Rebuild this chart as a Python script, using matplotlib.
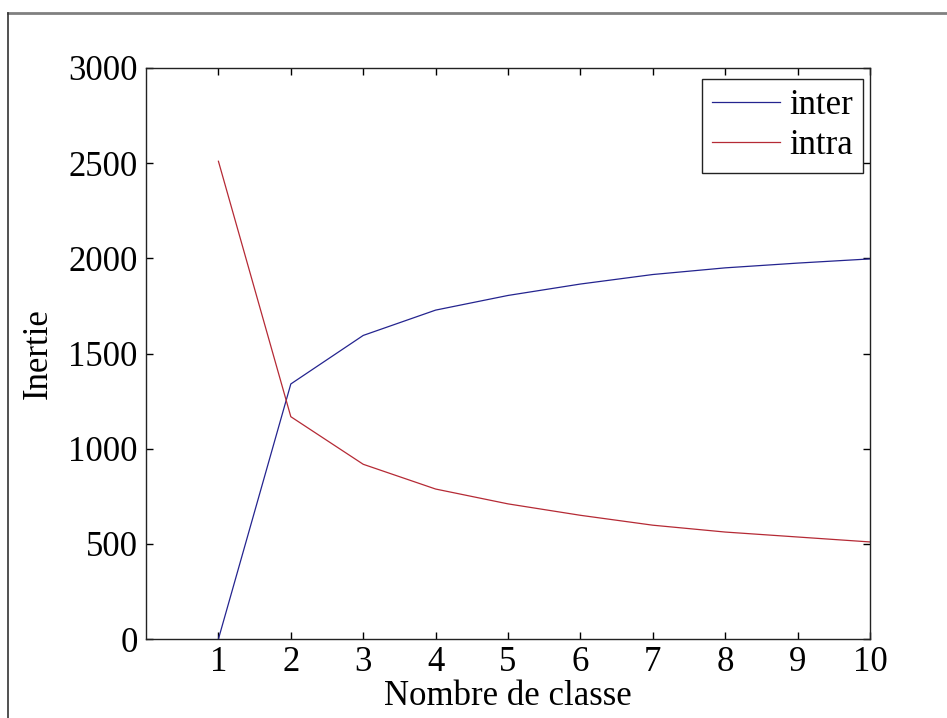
import matplotlib.pyplot as plt
from matplotlib.lines import Line2D

# Inertie inter/intra selon le nombre de classes
n_classes = [1, 2, 3, 4, 5, 6, 7, 8, 9, 10]
inter = [0, 1340, 1595, 1728, 1805, 1865, 1915, 1950, 1975, 1997]
intra = [2510, 1168, 918, 788, 710, 650, 598, 562, 536, 510]

plt.rcParams['font.family'] = ['Liberation Serif', 'DejaVu Serif']

fig = plt.figure(figsize=(9.47, 7.18), dpi=100)
ax = fig.add_axes([0.1542, 0.11, 0.7645, 0.7953])

ax.plot(n_classes, inter, color='#24248f', lw=0.9, label='inter')
ax.plot(n_classes, intra, color='#b52a35', lw=0.9, label='intra')

ax.set_xlim(0, 10)
ax.set_ylim(0, 3000)
ax.set_xticks(n_classes)
ax.set_yticks(range(0, 3001, 500))
ax.tick_params(direction='in', length=5, width=1, top=True, right=True,
               labelsize=25)
ax.tick_params(axis='y', pad=6)
ax.tick_params(axis='x', pad=5)
for s in ax.spines.values():
    s.set_linewidth(1.0)
    s.set_color('#222222')

ax.set_xlabel('Nombre de classe', fontsize=25, labelpad=1)
ax.set_ylabel('Inertie', fontsize=25, labelpad=10)

leg = ax.legend(loc='upper right', bbox_to_anchor=(0.9903, 0.9807),
                borderaxespad=0, fontsize=25, handlelength=1.96,
                handletextpad=0.25, labelspacing=0.2, borderpad=0.3,
                fancybox=False, framealpha=1)
leg.get_frame().set_edgecolor('#222222')
leg.get_frame().set_linewidth(1.0)

# cadre de la fenêtre (haut et gauche)
fig.add_artist(Line2D([8 / 947, 1], [1 - 13 / 718] * 2, color='#808080', lw=2))
fig.add_artist(Line2D([8 / 947] * 2, [0, 1 - 13 / 718], color='#333333', lw=1.2))

fig.savefig('out.png', dpi=100)
